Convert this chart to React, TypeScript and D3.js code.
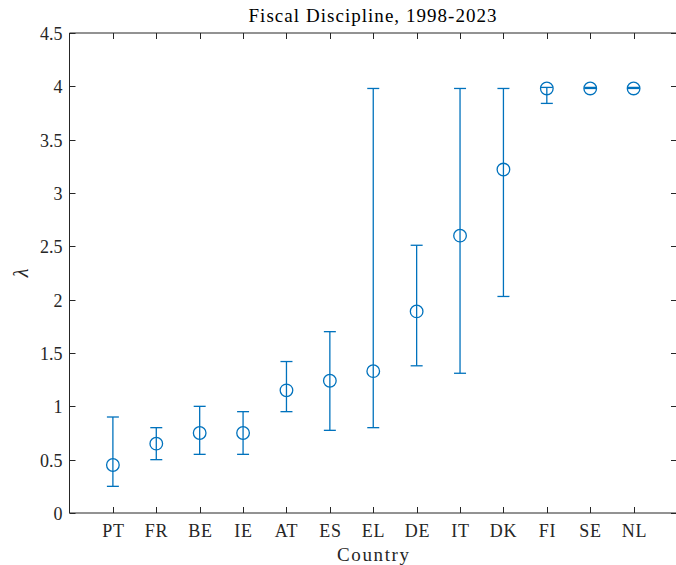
import { useEffect, useRef } from 'react';
import * as d3 from 'd3';

const countries = ['PT', 'FR', 'BE', 'IE', 'AT', 'ES', 'EL', 'DE', 'IT', 'DK', 'FI', 'SE', 'NL'];
const lambda = [0.45, 0.65, 0.75, 0.75, 1.15, 1.24, 1.33, 1.89, 2.6, 3.22, 3.98, 3.98, 3.98];
const lower = [0.25, 0.5, 0.55, 0.55, 0.95, 0.775, 0.8, 1.38, 1.31, 2.03, 3.84, 3.98, 3.98];
const upper = [0.9, 0.8, 1.0, 0.95, 1.42, 1.7, 3.98, 2.51, 3.98, 3.98, 3.99, 3.99, 3.99];
const yTicks = [0, 0.5, 1, 1.5, 2, 2.5, 3, 3.5, 4, 4.5];

export default function App() {
  const svgRef = useRef<SVGSVGElement>(null);

  useEffect(() => {
    if (!svgRef.current) return;
    const svg = d3.select(svgRef.current);
    svg.selectAll('*').remove();

    const width = 676;
    const height = 565;
    const left = 69.5;
    const right = 677;
    const top = 33;
    const bottom = 513;
    const font = '"Liberation Serif", "Times New Roman", serif';
    const axisColor = '#262626';
    const blue = '#0072BD';

    svg.attr('width', width).attr('height', height).style('font-family', font);

    const x = d3.scaleLinear().domain([0, countries.length + 1]).range([left, right]);
    const y = d3.scaleLinear().domain([0, 4.5]).range([bottom, top]);

    // Box (right edge falls just outside the picture)
    const g = svg.append('g');
    g.append('line').attr('x1', left).attr('x2', right).attr('y1', bottom).attr('y2', bottom)
      .attr('stroke', axisColor);
    g.append('line').attr('x1', left).attr('x2', right).attr('y1', top).attr('y2', top)
      .attr('stroke', axisColor);
    g.append('line').attr('x1', left).attr('x2', left).attr('y1', top).attr('y2', bottom)
      .attr('stroke', axisColor);

    // X ticks (bottom and top, inward)
    countries.forEach((c, i) => {
      const xp = Math.round(x(i + 1)) + 0.5;
      g.append('line').attr('x1', xp).attr('x2', xp).attr('y1', bottom).attr('y2', bottom - 6)
        .attr('stroke', axisColor);
      g.append('line').attr('x1', xp).attr('x2', xp).attr('y1', top).attr('y2', top + 6)
        .attr('stroke', axisColor);
      g.append('text').attr('x', xp).attr('y', bottom + 24).attr('text-anchor', 'middle')
        .attr('font-size', 18).attr('letter-spacing', 0.8).attr('fill', axisColor).text(c);
    });

    // Y ticks (left and right, inward)
    yTicks.forEach((t) => {
      const yp = Math.round(y(t)) + 0.5;
      g.append('line').attr('x1', left).attr('x2', left + 6).attr('y1', yp).attr('y2', yp)
        .attr('stroke', axisColor);
      g.append('line').attr('x1', right - 6).attr('x2', right).attr('y1', yp).attr('y2', yp)
        .attr('stroke', axisColor);
      g.append('text').attr('x', left - 7).attr('y', yp + 6).attr('text-anchor', 'end')
        .attr('font-size', 18).attr('fill', axisColor).text(String(t));
    });

    // Error bars
    const bars = svg.append('g').attr('stroke', blue).attr('stroke-width', 1.3).attr('fill', 'none');
    countries.forEach((_, i) => {
      const xp = x(i + 1);
      bars.append('line').attr('x1', xp).attr('x2', xp).attr('y1', y(lower[i])).attr('y2', y(upper[i]));
      bars.append('line').attr('x1', xp - 6).attr('x2', xp + 6).attr('y1', y(lower[i])).attr('y2', y(lower[i]));
      bars.append('line').attr('x1', xp - 6).attr('x2', xp + 6).attr('y1', y(upper[i])).attr('y2', y(upper[i]));
      bars.append('circle').attr('cx', xp).attr('cy', y(lambda[i])).attr('r', 6.3);
    });

    // Labels
    svg.append('text').attr('x', 372.5).attr('y', 22).attr('text-anchor', 'middle')
      .attr('font-size', 19).attr('textLength', 248).attr('lengthAdjust', 'spacing')
      .attr('fill', '#000').text('Fiscal Discipline, 1998-2023');
    svg.append('text').attr('x', 373).attr('y', 561).attr('text-anchor', 'middle')
      .attr('font-size', 19).attr('textLength', 72).attr('lengthAdjust', 'spacing')
      .attr('fill', axisColor).text('Country');
    svg.append('text').attr('transform', `translate(28,${(top + bottom) / 2}) rotate(-90)`)
      .attr('text-anchor', 'middle').attr('font-size', 20).attr('font-style', 'italic')
      .attr('fill', axisColor).text('λ');
  }, []);

  return (
    <div style={{ position: 'absolute', left: 0, top: 0 }}>
      <svg ref={svgRef} />
    </div>
  );
}
